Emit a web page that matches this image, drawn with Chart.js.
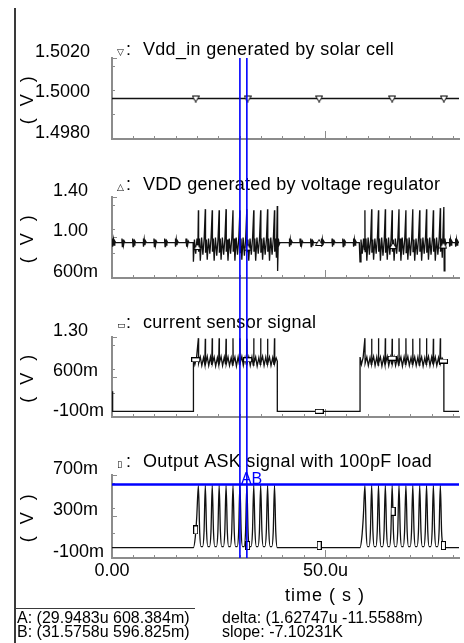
<!DOCTYPE html>
<html>
<head>
<meta charset="utf-8">
<title>Waveforms</title>
<script src="https://cdn.jsdelivr.net/npm/chart.js@4.4.1/dist/chart.umd.min.js"></script>
<style>
  html, body { margin:0; padding:0; background:#fff; }
  #wrap { position:relative; width:464px; height:643px; overflow:hidden; background:#fff; }
  #wrap canvas { position:absolute; left:0; }
  #vborder { position:absolute; left:14px; top:8px; width:2px; height:640px; background:#3a3a3a; }
  #hsep { position:absolute; left:15px; top:608px; width:180px; height:1px; background:#3a3a3a; }
  .ro { position:absolute; font-family:'Liberation Sans', Arial, sans-serif; font-size:16px; line-height:16px; color:#000; white-space:pre; }
</style>
</head>
<body>
<div id="wrap">
  <canvas id="c1" width="464" height="150" style="top:0px"></canvas>
  <canvas id="c2" width="464" height="140" style="top:150px"></canvas>
  <canvas id="c3" width="464" height="138" style="top:290px"></canvas>
  <canvas id="c4" width="464" height="180" style="top:428px"></canvas>
  <div id="vborder"></div>
  <div id="hsep"></div>
  <div class="ro" style="left:17px;top:610px">A: (29.9483u 608.384m)</div>
  <div class="ro" style="left:17px;top:624px">B: (31.5758u 596.825m)</div>
  <div class="ro" style="left:222px;top:610px">delta: (1.62747u -11.5588m)</div>
  <div class="ro" style="left:222px;top:624px">slope: -7.10231K</div>
</div>
<script>
// ================= DATA (time in µs, values in V) =================
const timeMax = 81.25;
const cursorT = [29.9483, 31.5758];
const cursorV = [0.608384, 0.596825];

// x axis ticks / labels
const xMinorTicks = [0, 5, 10, 15, 20, 25, 30, 35, 40, 45, 50, 55, 60, 65, 70, 75, 80];
const xMajorTicks = [0, 50];
const xLabelVals = [0, 50];
const xLabelText = ['0.00', '50.0u'];

// ---- Plot 1: Vdd_in generated by solar cell ----
const vinT = [0, 81.25];
const vinV = [1.5, 1.5];
const vinMarkT = [19.6, 31.75, 48.5, 65.6, 77.7];
const vinMarkV = [1.5, 1.5, 1.5, 1.5, 1.5];
const vinTicks = [1.498, 1.5, 1.502];
const vinLabels = ['1.4980', '1.5000', '1.5020'];
const vinMinor = [1.498, 1.4984, 1.4988, 1.4992, 1.4996, 1.5, 1.5004, 1.5008, 1.5012, 1.5016, 1.502];

// ---- Plot 2: VDD generated by voltage regulator ----
const vddOff1T = [0,
  0.1, 0.13, 0.22, 0.35, 0.5, 0.65, 0.85,
  2.3, 2.33, 2.42, 2.55, 2.7, 2.85, 3.05,
  4.8, 4.83, 4.92, 5.05, 5.2, 5.35, 5.55,
  7.3, 7.33, 7.42, 7.55, 7.7, 7.85, 8.05,
  9.8, 9.83, 9.92, 10.05, 10.2, 10.35, 10.55,
  12.3, 12.33, 12.42, 12.55, 12.7, 12.85, 13.05,
  14.8, 14.83, 14.92, 15.05, 15.2, 15.35, 15.55,
  17.3, 17.33, 17.42, 17.55, 17.7, 17.85, 18.05];
const vddOff1V = [0.95,
  0.95, 0.99, 0.91, 0.98, 0.925, 0.965, 0.95,
  0.95, 0.99, 0.91, 0.98, 0.925, 0.965, 0.95,
  0.95, 0.99, 0.91, 0.98, 0.925, 0.965, 0.95,
  0.95, 0.99, 0.91, 0.98, 0.925, 0.965, 0.95,
  0.95, 0.99, 0.91, 0.98, 0.925, 0.965, 0.95,
  0.95, 0.99, 0.91, 0.98, 0.925, 0.965, 0.95,
  0.95, 0.99, 0.91, 0.98, 0.925, 0.965, 0.95,
  0.95, 0.99, 0.91, 0.98, 0.925, 0.965, 0.95];
const vddOn1T = [19.0, 19.06, 19.3, 19.6, 19.9, 20.1,
  20.23, 20.28, 20.48, 20.68, 20.98, 21.28, 21.58,
  21.85, 21.9, 22.1, 22.3, 22.6, 22.9, 23.2,
  23.47, 23.52, 23.72, 23.92, 24.22, 24.52, 24.82,
  25.09, 25.14, 25.34, 25.54, 25.84, 26.14, 26.44,
  26.71, 26.76, 26.96, 27.16, 27.46, 27.76, 28.06,
  28.33, 28.38, 28.58, 28.78, 29.08, 29.38, 29.68,
  29.95, 30.0, 30.2, 30.4, 30.7, 31.0, 31.3,
  31.57, 31.62, 31.82, 32.02, 32.32, 32.62, 32.92,
  33.19, 33.24, 33.44, 33.64, 33.94, 34.24, 34.54,
  34.81, 34.86, 35.06, 35.26, 35.56, 35.86, 36.16,
  36.43, 36.48, 36.68, 36.88, 37.18, 37.48, 37.78,
  38.05, 38.1, 38.3, 38.5, 38.7, 38.78, 38.95, 39.15, 39.35];
const vddOn1V = [0.95, 0.76, 0.98, 0.84, 0.99, 0.88,
  1.27, 0.86, 0.99, 0.77, 1.0, 0.83, 0.99,
  1.28, 0.85, 0.98, 0.78, 0.99, 0.84, 1.0,
  1.27, 0.86, 0.99, 0.77, 1.0, 0.82, 0.98,
  1.27, 0.85, 0.99, 0.78, 1.0, 0.83, 0.99,
  1.28, 0.86, 0.98, 0.77, 0.99, 0.84, 1.0,
  1.27, 0.86, 0.99, 0.77, 1.0, 0.83, 0.99,
  1.27, 0.85, 0.99, 0.78, 1.0, 0.82, 0.99,
  1.28, 0.86, 0.98, 0.77, 0.99, 0.83, 1.0,
  1.27, 0.86, 0.99, 0.77, 1.0, 0.84, 0.99,
  1.27, 0.85, 0.99, 0.78, 1.0, 0.83, 0.98,
  1.28, 0.86, 0.99, 0.77, 1.0, 0.83, 0.99,
  1.27, 0.86, 0.99, 0.8, 1.31, 0.67, 0.99, 0.93, 0.95];
const vddOff2T = [
  41.5, 41.53, 41.62, 41.75, 41.9, 42.05, 42.25,
  44.0, 44.03, 44.12, 44.25, 44.4, 44.55, 44.75,
  46.5, 46.53, 46.62, 46.75, 46.9, 47.05, 47.25,
  49.0, 49.03, 49.12, 49.25, 49.4, 49.55, 49.75,
  51.5, 51.53, 51.62, 51.75, 51.9, 52.05, 52.25,
  54.0, 54.03, 54.12, 54.25, 54.4, 54.55, 54.75,
  56.5, 56.53, 56.62, 56.75, 56.9, 57.05, 57.25];
const vddOff2V = [
  0.95, 0.99, 0.91, 0.98, 0.925, 0.965, 0.95,
  0.95, 0.99, 0.91, 0.98, 0.925, 0.965, 0.95,
  0.95, 0.99, 0.91, 0.98, 0.925, 0.965, 0.95,
  0.95, 0.99, 0.91, 0.98, 0.925, 0.965, 0.95,
  0.95, 0.99, 0.91, 0.98, 0.925, 0.965, 0.95,
  0.95, 0.99, 0.91, 0.98, 0.925, 0.965, 0.95,
  0.95, 0.99, 0.91, 0.98, 0.925, 0.965, 0.95];
const vddOn2T = [57.9, 58.07, 58.3, 58.6, 58.9, 59.1,
  59.22, 59.27, 59.47, 59.67, 59.97, 60.27, 60.57,
  60.8, 60.85, 61.05, 61.25, 61.55, 61.85, 62.15,
  62.4, 62.45, 62.65, 62.85, 63.15, 63.45, 63.75,
  64.0, 64.05, 64.25, 64.45, 64.75, 65.05, 65.35,
  65.6, 65.65, 65.85, 66.05, 66.35, 66.65, 66.95,
  67.2, 67.25, 67.45, 67.65, 67.95, 68.25, 68.55,
  68.82, 68.87, 69.07, 69.27, 69.57, 69.87, 70.17,
  70.43, 70.48, 70.68, 70.88, 71.18, 71.48, 71.78,
  72.05, 72.1, 72.3, 72.5, 72.8, 73.1, 73.4,
  73.65, 73.7, 73.9, 74.1, 74.4, 74.7, 75.0,
  75.25, 75.3, 75.5, 75.7, 76.0, 76.3, 76.6,
  76.88, 76.93, 77.13, 77.33, 77.7, 77.78, 77.95, 78.15, 78.35];
const vddOn2V = [0.95, 0.76, 0.98, 0.84, 0.99, 0.88,
  1.27, 0.86, 0.99, 0.77, 1.0, 0.83, 0.99,
  1.28, 0.85, 0.98, 0.78, 0.99, 0.84, 1.0,
  1.27, 0.86, 0.99, 0.77, 1.0, 0.82, 0.98,
  1.28, 0.85, 0.99, 0.78, 1.0, 0.83, 0.99,
  1.27, 0.86, 0.98, 0.77, 0.99, 0.84, 1.0,
  1.28, 0.86, 0.99, 0.77, 1.0, 0.83, 0.99,
  1.27, 0.85, 0.99, 0.78, 1.0, 0.82, 0.99,
  1.28, 0.86, 0.98, 0.77, 0.99, 0.83, 1.0,
  1.27, 0.86, 0.99, 0.77, 1.0, 0.84, 0.99,
  1.28, 0.85, 0.99, 0.78, 1.0, 0.83, 0.98,
  1.27, 0.86, 0.99, 0.77, 1.0, 0.83, 0.99,
  1.29, 0.86, 0.99, 0.8, 1.3, 0.67, 0.99, 0.93, 0.95];
const vddOff3T = [
  79.0, 79.03, 79.12, 79.25, 79.4, 79.55, 79.75,
  80.4, 80.43, 80.52, 80.65, 80.8, 80.95, 81.15,
  81.25];
const vddOff3V = [
  0.95, 0.99, 0.91, 0.98, 0.925, 0.965, 0.95,
  0.95, 0.99, 0.91, 0.98, 0.925, 0.965, 0.95,
  0.95];
const vddMarkT = [20.0, 31.75, 48.5, 65.8, 77.6];
const vddMarkV = [0.906, 0.9, 0.946, 0.916, 0.92];
const vddTicks = [0.6, 1.0, 1.4];
const vddLabels = ['600m', '1.00', '1.40'];
const vddMinor = [0.6, 0.68, 0.76, 0.84, 0.92, 1.0, 1.08, 1.16, 1.24, 1.32, 1.4];

// ---- Plot 3: current sensor signal ----
const curOffT = [0, 0.15];
const curOffV = [0.35, 0.0];
const curOn1T = [19.06, 19.07, 19.4, 19.8,
  20.23, 20.28, 20.68, 21.03, 21.43, 21.73,
  21.85, 21.9, 22.3, 22.65, 23.05, 23.35,
  23.47, 23.52, 23.92, 24.27, 24.67, 24.97,
  25.09, 25.14, 25.54, 25.89, 26.29, 26.59,
  26.71, 26.76, 27.16, 27.51, 27.91, 28.21,
  28.33, 28.38, 28.78, 29.13, 29.53, 29.83,
  29.95, 30.0, 30.4, 30.75, 31.15, 31.45,
  31.57, 31.62, 32.02, 32.37, 32.77, 33.07,
  33.19, 33.24, 33.64, 33.99, 34.39, 34.69,
  34.81, 34.86, 35.26, 35.61, 36.01, 36.31,
  36.43, 36.48, 36.88, 37.23, 37.63, 37.93,
  38.05, 38.1, 38.45, 38.7, 38.71];
const curOn1V = [0.0, 0.95, 0.82, 0.94,
  1.28, 0.84, 0.95, 0.80, 0.94, 0.82,
  1.27, 0.83, 0.96, 0.80, 0.95, 0.81,
  1.28, 0.84, 0.95, 0.79, 0.94, 0.82,
  1.28, 0.84, 0.96, 0.80, 0.95, 0.82,
  1.27, 0.83, 0.95, 0.80, 0.94, 0.81,
  1.28, 0.84, 0.95, 0.79, 0.95, 0.82,
  1.28, 0.84, 0.96, 0.80, 0.94, 0.82,
  1.27, 0.83, 0.95, 0.80, 0.95, 0.81,
  1.28, 0.84, 0.95, 0.79, 0.94, 0.82,
  1.28, 0.84, 0.96, 0.80, 0.95, 0.82,
  1.27, 0.83, 0.95, 0.80, 0.94, 0.81,
  1.28, 0.84, 0.93, 0.88, 0.0];
const curOn2T = [58.07, 58.08, 58.4, 58.8,
  59.22, 59.27, 59.67, 60.02, 60.42, 60.7,
  60.8, 60.85, 61.25, 61.6, 62.0, 62.3,
  62.4, 62.45, 62.85, 63.2, 63.6, 63.9,
  64.0, 64.05, 64.45, 64.8, 65.2, 65.5,
  65.6, 65.65, 66.05, 66.4, 66.8, 67.1,
  67.2, 67.25, 67.65, 68.0, 68.4, 68.7,
  68.82, 68.87, 69.27, 69.62, 70.02, 70.32,
  70.43, 70.48, 70.88, 71.23, 71.63, 71.93,
  72.05, 72.1, 72.5, 72.85, 73.25, 73.55,
  73.65, 73.7, 74.1, 74.45, 74.85, 75.15,
  75.25, 75.3, 75.7, 76.05, 76.45, 76.75,
  76.88, 76.93, 77.3, 77.7, 77.71, 81.25];
const curOn2V = [0.0, 0.95, 0.82, 0.94,
  1.28, 0.84, 0.95, 0.80, 0.94, 0.82,
  1.27, 0.83, 0.96, 0.80, 0.95, 0.81,
  1.28, 0.84, 0.95, 0.79, 0.94, 0.82,
  1.28, 0.84, 0.96, 0.80, 0.95, 0.82,
  1.27, 0.83, 0.95, 0.80, 0.94, 0.81,
  1.28, 0.84, 0.95, 0.79, 0.95, 0.82,
  1.28, 0.84, 0.96, 0.80, 0.94, 0.82,
  1.27, 0.83, 0.95, 0.80, 0.95, 0.81,
  1.28, 0.84, 0.95, 0.79, 0.94, 0.82,
  1.28, 0.84, 0.96, 0.80, 0.95, 0.82,
  1.27, 0.83, 0.95, 0.80, 0.94, 0.81,
  1.28, 0.84, 0.93, 0.88, 0.0, 0.0];
const curMarkT = [19.6, 31.75, 48.5, 65.6, 77.6];
const curMarkV = [0.9, 0.9, 0.0, 0.93, 0.88];
const curTicks = [-0.1, 0.6, 1.3];
const curLabels = ['-100m', '600m', '1.30'];
const curMinor = [-0.1, 0.04, 0.18, 0.32, 0.46, 0.6, 0.74, 0.88, 1.02, 1.16, 1.3];

// ---- Plot 4: Output ASK signal with 100pF load ----
const askOn1T = [0, 19.06, 19.5, 19.85,
  20.23, 20.53, 20.83, 21.23, 21.55,
  21.85, 22.15, 22.45, 22.85, 23.17,
  23.47, 23.77, 24.07, 24.47, 24.79,
  25.09, 25.39, 25.69, 26.09, 26.41,
  26.71, 27.01, 27.31, 27.71, 28.03,
  28.33, 28.63, 28.93, 29.33, 29.65,
  29.95, 30.25, 30.55, 30.95, 31.27,
  31.57, 31.87, 32.17, 32.57, 32.89,
  33.19, 33.49, 33.79, 34.19, 34.51,
  34.81, 35.11, 35.41, 35.81, 36.13,
  36.43, 36.73, 37.03, 37.43, 37.75,
  38.05, 38.35, 38.7];
const askOn1V = [0.0, 0.0, 0.1, 0.3,
  0.6, 0.15, 0.01, 0.01, 0.15,
  0.6, 0.15, 0.01, 0.01, 0.15,
  0.6, 0.15, 0.01, 0.01, 0.15,
  0.6, 0.15, 0.01, 0.01, 0.15,
  0.6, 0.15, 0.01, 0.01, 0.15,
  0.6, 0.15, 0.01, 0.01, 0.15,
  0.608, 0.15, 0.01, 0.01, 0.15,
  0.597, 0.15, 0.01, 0.01, 0.15,
  0.6, 0.15, 0.01, 0.01, 0.15,
  0.6, 0.15, 0.01, 0.01, 0.15,
  0.6, 0.15, 0.01, 0.01, 0.15,
  0.6, 0.15, 0.0];
const askOn2T = [58.07, 58.5, 58.85,
  59.22, 59.52, 59.82, 60.2, 60.5,
  60.8, 61.1, 61.4, 61.8, 62.1,
  62.4, 62.7, 63.0, 63.4, 63.7,
  64.0, 64.3, 64.6, 65.0, 65.3,
  65.6, 65.9, 66.2, 66.6, 66.9,
  67.2, 67.5, 67.8, 68.2, 68.5,
  68.82, 69.12, 69.42, 69.82, 70.13,
  70.43, 70.73, 71.03, 71.43, 71.75,
  72.05, 72.35, 72.65, 73.05, 73.35,
  73.65, 73.95, 74.25, 74.65, 74.95,
  75.25, 75.55, 75.85, 76.25, 76.58,
  76.88, 77.18, 77.48, 77.7, 81.25];
const askOn2V = [0.0, 0.1, 0.3,
  0.6, 0.15, 0.01, 0.01, 0.15,
  0.6, 0.15, 0.01, 0.01, 0.15,
  0.6, 0.15, 0.01, 0.01, 0.15,
  0.6, 0.15, 0.01, 0.01, 0.15,
  0.6, 0.15, 0.01, 0.01, 0.15,
  0.6, 0.15, 0.01, 0.01, 0.15,
  0.6, 0.15, 0.01, 0.01, 0.15,
  0.6, 0.15, 0.01, 0.01, 0.15,
  0.6, 0.15, 0.01, 0.01, 0.15,
  0.6, 0.15, 0.01, 0.01, 0.15,
  0.6, 0.15, 0.01, 0.01, 0.15,
  0.6, 0.15, 0.02, 0.0, 0.0];
const askMarkT = [19.6, 31.75, 48.5, 65.8, 77.6];
const askMarkV = [0.17, 0.02, 0.02, 0.35, 0.02];
const askTicks = [-0.1, 0.3, 0.7];
const askLabels = ['-100m', '300m', '700m'];
const askMinor = [-0.1, -0.02, 0.06, 0.14, 0.22, 0.3, 0.38, 0.46, 0.54, 0.62, 0.7];

// ================= RENDERING =================
const FONT = "'Liberation Sans', Arial, sans-serif";
const AX = '#8c8c8c';

function pts(ts, vs) { return ts.map((t, i) => ({ x: t, y: vs[i] })); }

function mk(w, h, draw) {
  const c = document.createElement('canvas');
  c.width = w; c.height = h;
  const g = c.getContext('2d');
  g.strokeStyle = '#000'; g.lineWidth = 1; g.fillStyle = '#fff';
  draw(g);
  return c;
}
const mTriDown = mk(8, 8, g => { g.beginPath(); g.moveTo(0.5, 1.5); g.lineTo(7.5, 1.5); g.lineTo(4, 7.5); g.closePath(); g.fill(); g.stroke(); });
const mTriUp = mk(8, 8, g => { g.beginPath(); g.moveTo(0.5, 6.5); g.lineTo(7.5, 6.5); g.lineTo(4, 0.5); g.closePath(); g.fill(); g.stroke(); });
const mRectH = mk(9, 5, g => { g.fillRect(0.5, 0.5, 8, 4); g.strokeRect(0.5, 0.5, 8, 4); });
const mRectV = mk(5, 9, g => { g.fillRect(0.5, 0.5, 4, 8); g.strokeRect(0.5, 0.5, 4, 8); });

const deco = {
  id: 'deco',
  afterDraw(chart, args, o) {
    const ctx = chart.ctx, ca = chart.chartArea, xs = chart.scales.x;
    ctx.save();
    ctx.fillStyle = '#000';
    ctx.textAlign = 'left';
    ctx.textBaseline = 'alphabetic';
    ctx.font = "9px 'DejaVu Sans'";
    ctx.fillText(o.glyph, 117, o.titleY);
    ctx.font = '18px ' + FONT;
    ctx.fillText(':', 126, o.titleY);
    ctx.letterSpacing = '0.3px';
    ctx.fillText(o.title, 143, o.titleY);
    // y axis title
    ctx.save();
    ctx.letterSpacing = '3.5px';
    ctx.translate(28, (ca.top + ca.bottom) / 2);
    ctx.rotate(-Math.PI / 2);
    ctx.textAlign = 'center';
    ctx.textBaseline = 'middle';
    ctx.fillText('( V )', 0, 0);
    ctx.restore();
    if (o.xTitle) {
      ctx.save();
      ctx.letterSpacing = '1px';
      ctx.textAlign = 'center';
      ctx.textBaseline = 'middle';
      ctx.fillText(o.xTitle, 325, o.xTitleY);
      ctx.restore();
    }
    // cursors
    ctx.letterSpacing = '0px';
    ctx.strokeStyle = '#0000ff';
    ctx.lineWidth = 1.6;
    const top = o.first ? ca.top : 0;
    const bot = o.last ? ca.bottom : chart.height;
    cursorT.forEach(t => {
      const px = xs.getPixelForValue(t);
      ctx.beginPath(); ctx.moveTo(px, top); ctx.lineTo(px, bot); ctx.stroke();
    });
    if (o.last) {
      const py = chart.scales.y.getPixelForValue(cursorV[0]);
      ctx.lineWidth = 2.6;
      ctx.beginPath(); ctx.moveTo(ca.left, py); ctx.lineTo(ca.right, py); ctx.stroke();
      ctx.fillStyle = '#0000ff';
      ctx.font = '16px ' + FONT;
      ctx.textAlign = 'left';
      ctx.textBaseline = 'alphabetic';
      ctx.fillText('AB', xs.getPixelForValue(cursorT[0]) + 1, py - 1);
    }
    ctx.restore();
  }
};

function makeChart(id, cfg) {
  const line = { data: pts(cfg.t, cfg.v), xAxisID: 'x', yAxisID: 'y', borderColor: '#111', borderWidth: 1.3,
                 pointRadius: 0, tension: 0, order: 2 };
  if (cfg.smooth) line.cubicInterpolationMode = 'monotone';
  return new Chart(document.getElementById(id), {
    type: 'line',
    data: {
      datasets: [
        line,
        { data: pts(cfg.mt, cfg.mv), xAxisID: 'x', yAxisID: 'y', showLine: false, pointStyle: cfg.marker,
          pointRadius: 4, order: 1 }
      ]
    },
    plugins: [deco],
    options: {
      responsive: false, animation: false, devicePixelRatio: 1, events: [],
      parsing: false,
      layout: { padding: { top: cfg.padTop, left: cfg.padLeft, right: 0, bottom: 0 } },
      plugins: {
        legend: { display: false }, tooltip: { enabled: false }, title: { display: false },
        deco: { glyph: cfg.glyph, title: cfg.title, titleY: cfg.titleY, first: !!cfg.first, last: !!cfg.last,
                xTitle: cfg.xTitle, xTitleY: cfg.xTitleY }
      },
      scales: {
        x: {
          type: 'linear', axis: 'x', position: 'bottom', min: 0, max: timeMax, weight: 1,
          afterBuildTicks: s => { s.ticks = xMinorTicks.map(v => ({ value: v })); },
          afterFit: s => { s.height = cfg.xHeight; },
          grid: { drawOnChartArea: false, drawTicks: true, tickLength: -3, tickColor: AX, tickWidth: 1 },
          border: { display: true, color: AX, width: 2 },
          ticks: {
            autoSkip: false, maxRotation: 0, minRotation: 0, padding: 7, color: '#000',
            font: { family: FONT, size: 18, lineHeight: 1 },
            callback: v => { if (!cfg.xLabels) return ''; const i = xLabelVals.indexOf(v); return i < 0 ? '' : xLabelText[i]; }
          }
        },
        xMaj: {
          type: 'linear', axis: 'x', position: 'bottom', min: 0, max: timeMax, weight: 0,
          afterBuildTicks: s => { s.ticks = xMajorTicks.map(v => ({ value: v })); },
          afterFit: s => { s.height = 0; },
          grid: { drawOnChartArea: false, drawTicks: true, tickLength: -8, tickColor: AX, tickWidth: 1 },
          border: { display: false },
          ticks: { padding: 0, callback: () => '' }
        },
        y: {
          type: 'linear', axis: 'y', position: 'left', min: cfg.ymin, max: cfg.ymax, weight: 1,
          afterBuildTicks: s => { s.ticks = cfg.yTicks.map(v => ({ value: v })); },
          afterFit: s => { s.width = 112 - cfg.padLeft; },
          grid: { drawOnChartArea: false, drawTicks: true, tickLength: -5, tickColor: AX, tickWidth: 1 },
          border: { display: true, color: AX, width: 2 },
          ticks: {
            crossAlign: 'far', labelOffset: -6, padding: 0, color: '#000',
            font: { family: FONT, size: 18, lineHeight: 1 },
            callback: (v, i) => cfg.yLabels[i]
          }
        },
        yMin: {
          type: 'linear', axis: 'y', position: 'left', min: cfg.ymin, max: cfg.ymax, weight: 0,
          afterBuildTicks: s => { s.ticks = cfg.yMinor.map(v => ({ value: v })); },
          afterFit: s => { s.width = 0; },
          grid: { drawOnChartArea: false, drawTicks: true, tickLength: -3, tickColor: AX, tickWidth: 1 },
          border: { display: false },
          ticks: { padding: 0, callback: () => '' }
        }
      }
    }
  });
}

makeChart('c1', {
  t: vinT, v: vinV, mt: vinMarkT, mv: vinMarkV, marker: mTriDown,
  ymin: 1.498, ymax: 1.502, yTicks: vinTicks, yLabels: vinLabels, yMinor: vinMinor,
  padTop: 58, padLeft: 35, xHeight: 11, titleY: 54.5, first: true,
  glyph: '\u25BD', title: 'Vdd_in generated by solar cell'
});
makeChart('c2', {
  t: [...vddOff1T, ...vddOn1T, ...vddOff2T, ...vddOn2T, ...vddOff3T],
  v: [...vddOff1V, ...vddOn1V, ...vddOff2V, ...vddOn2V, ...vddOff3V],
  mt: vddMarkT, mv: vddMarkV, marker: mTriUp,
  ymin: 0.6, ymax: 1.4, yTicks: vddTicks, yLabels: vddLabels, yMinor: vddMinor,
  padTop: 47, padLeft: 53, xHeight: 12, titleY: 39.5,
  glyph: '\u25B3', title: 'VDD generated by voltage regulator'
});
makeChart('c3', {
  t: [...curOffT, ...curOn1T, ...curOn2T],
  v: [...curOffV, ...curOn1V, ...curOn2V],
  mt: curMarkT, mv: curMarkV, marker: mRectH,
  ymin: -0.1, ymax: 1.3, yTicks: curTicks, yLabels: curLabels, yMinor: curMinor,
  padTop: 47, padLeft: 53, xHeight: 11, titleY: 38,
  glyph: '\u25AD', title: 'current sensor signal'
});
makeChart('c4', {
  t: [...askOn1T, ...askOn2T],
  v: [...askOn1V, ...askOn2V],
  mt: askMarkT, mv: askMarkV, marker: mRectV, smooth: true,
  ymin: -0.1, ymax: 0.7, yTicks: askTicks, yLabels: askLabels, yMinor: askMinor,
  padTop: 47, padLeft: 53, xHeight: 50, titleY: 38.5, last: true, xLabels: true,
  xTitle: 'time ( s )', xTitleY: 168,
  glyph: '\u25AF', title: 'Output ASK signal with 100pF load'
});
</script>
</body>
</html>
